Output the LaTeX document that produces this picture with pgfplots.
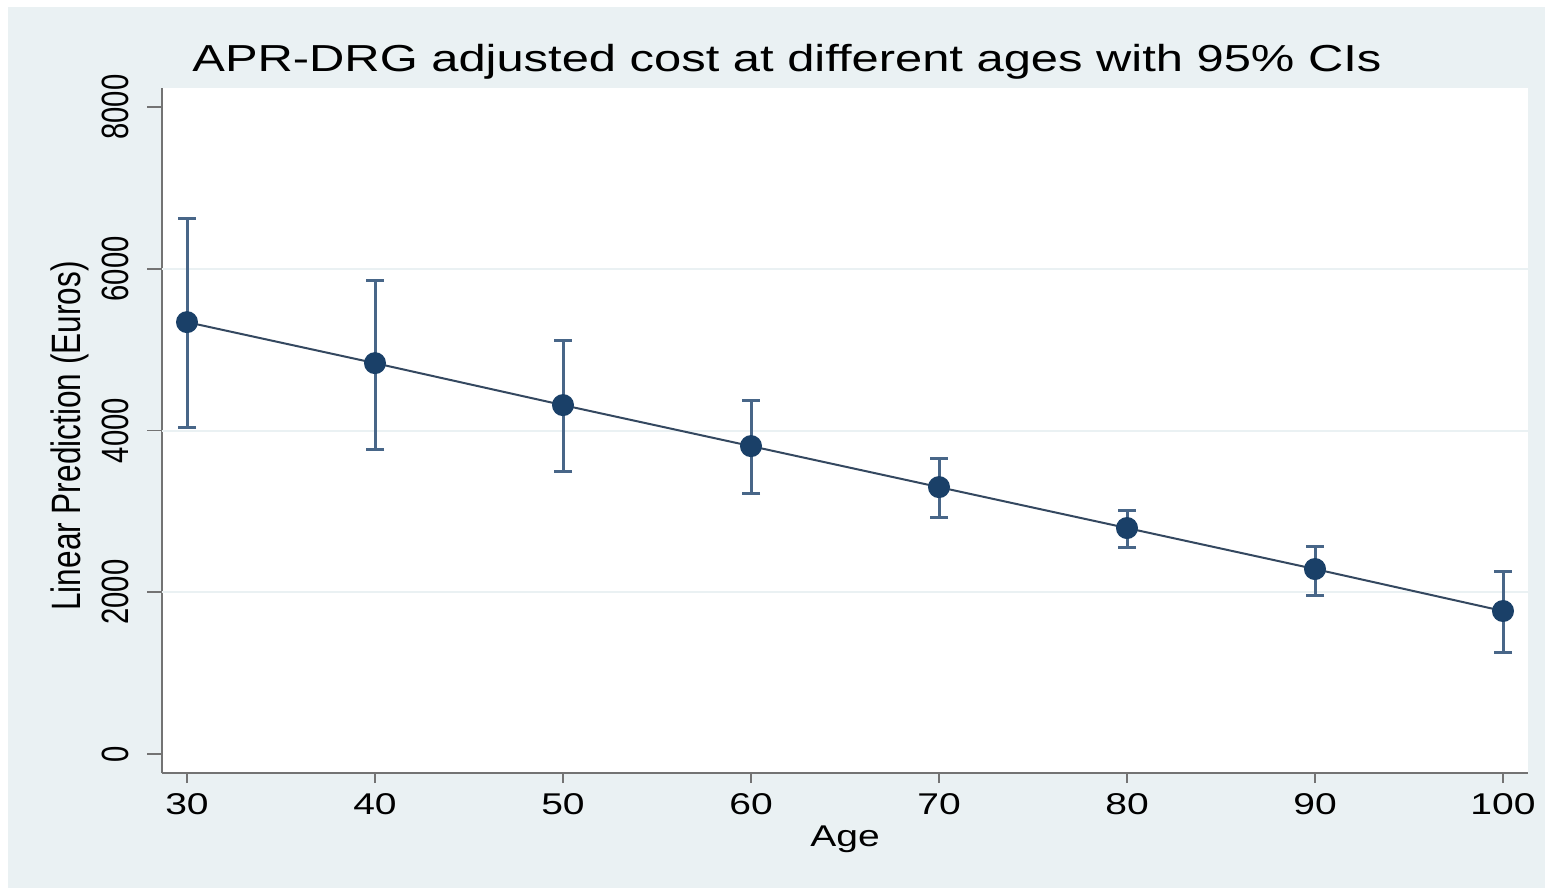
\documentclass[border=0pt]{standalone}
\usepackage{fontspec}
\setmainfont{Liberation Sans}[FakeStretch=1.3]
% rotated texts: thicker across, same length
\newfontfamily\rotsans{Liberation Sans}[FakeStretch=0.77]
\usepackage{pgfplots}
\usepackage{pgfplotstable}
\pgfplotsset{compat=1.18}

\definecolor{bgc}{RGB}{234,241,243}
\definecolor{gridc}{RGB}{234,241,243}
\definecolor{navy}{RGB}{26,64,104}
\definecolor{linec}{RGB}{52,72,96}
\definecolor{cic}{RGB}{72,102,136}
\definecolor{axc}{RGB}{115,115,115}

% age, prediction, CI upper-pred, pred-CI lower
\pgfplotstableread{
age pred up lo
30  5340 1285 1298
40  4833 1026 1063
50  4314  803  816
60  3807  569  581
70  3300  359  370
80  2794  222  235
90  2287  284  322
100 1768  494  516
}\costdata

\begin{document}
\begin{tikzpicture}
% graph region (1px = 0.5pt)
\fill[white] (-81pt,-58.5pt) rectangle (691.5pt,386.5pt);
\fill[bgc] (-77pt,-57.5pt) rectangle (691.5pt,383pt);
\begin{axis}[
    scale only axis,
    width=683pt, height=342.5pt,
    xmin=28.67, xmax=101.33,
    ymin=-235, ymax=8235,
    axis lines*=left,
    axis line style={axc, line width=1pt},
    axis background/.style={fill=white},
    tick align=outside,
    xtick={30,40,...,100},
    ytick={0,2000,...,8000},
    extra y ticks={2000,4000,6000},
    extra y tick labels={},
    extra y tick style={grid=major, major tick length=0pt},
    major grid style={gridc, line width=1pt},
    xtick style={axc, line width=0.8pt, /pgfplots/major tick length=5pt},
    ytick style={axc, line width=0.8pt, /pgfplots/major tick length=7.5pt},
    /pgf/number format/assume math mode=true,
    /pgf/number format/1000 sep={},
    xticklabel style={font=\fontsize{15}{18}\selectfont, inner sep=0pt, yshift=-6pt},
    yticklabel style={font=\rotsans\fontsize{19}{22}\selectfont, rotate=90, anchor=south, inner sep=0pt, yshift=12pt},
    title={APR-DRG adjusted cost at different ages with 95\% CIs},
    title style={font=\fontsize{18.8}{22}\selectfont, at={(axis description cs:0.4575,1.006)}, anchor=base},
    xlabel={Age},
    xlabel style={font=\fontsize{15}{18}\selectfont, at={(axis description cs:0.5,-0.108)}, anchor=base},
    ylabel={Linear Prediction (Euros)},
    ylabel style={font=\rotsans\fontsize{20.5}{24}\selectfont, at={(axis description cs:-0.0674,0.492)}, anchor=center},
]
\addplot[
    linec, line width=1pt,
    mark=*, mark size=5pt, mark options={fill=navy, draw=navy},
    error bars/.cd,
        y dir=both, y explicit,
        error bar style={cic, line width=1.5pt},
        error mark options={cic, line width=1.5pt, mark size=4.5pt, rotate=90},
] table[x=age, y=pred, y error plus=up, y error minus=lo] {\costdata};
\end{axis}
\end{tikzpicture}
\end{document}
